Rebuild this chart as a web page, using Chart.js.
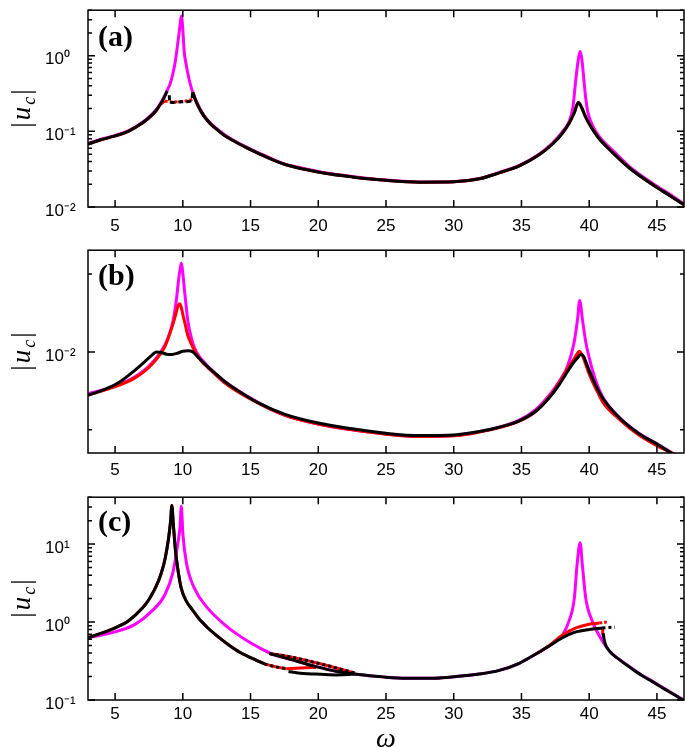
<!DOCTYPE html>
<html><head><meta charset="utf-8">
<script src="https://cdn.jsdelivr.net/npm/chart.js@4.4.1/dist/chart.umd.min.js"></script>
<style>
html,body{margin:0;padding:0;background:#fff}
body{width:685px;height:747px;overflow:hidden;position:relative}
canvas{position:absolute;left:0;display:block}
</style></head><body>
<canvas id="ca" width="685" height="240" style="top:0px"></canvas>
<canvas id="cb" width="685" height="247" style="top:240px"></canvas>
<canvas id="cc" width="685" height="270" style="top:487px"></canvas>
<script>
// ---------- shared ----------
const xTicks = [5,10,15,20,25,30,35,40,45];

// ---------- panel (a) ----------
const aTickVals = [0.01, 0.1, 1];
const aTickLabels = ['10\u207B\u00B2','10\u207B\u00B9','10\u2070'];
const aMinor = [0.02,0.03,0.04,0.05,0.06,0.07,0.08,0.09,0.2,0.3,0.4,0.5,0.6,0.7,0.8,0.9,2,3,4];
const aMagW = [3,4,5,6,7,7.5,8,8.5,8.85,9.05,9.25,9.45,9.64,9.78,9.89,9.98,10.1,10.25,10.45,10.7,10.9,11.11,11.36,11.7,12.1,12.6,13.08,13.8,14.55,15.3,16.03,17.5,19,20.5,22.5,25,27.5,30,31.9,33.4,34.84,36.3,37.29,38.03,38.52,38.8,39.02,39.2,39.33,39.46,39.6,39.75,39.9,40.1,40.4,40.74,41.2,41.7,42.95,44.67,46.14,47];
const aMagU = [0.069,0.079,0.088,0.102,0.131,0.154,0.19,0.26,0.35,0.42,0.56,0.85,1.52,2.4,3.35,2.5,1.15,0.76,0.5,0.34,0.275,0.228,0.186,0.15,0.126,0.105,0.09,0.075,0.064,0.055,0.048,0.0372,0.032,0.0283,0.0253,0.0227,0.0214,0.0216,0.0238,0.0288,0.0355,0.050,0.070,0.099,0.135,0.21,0.5,0.9,1.14,0.9,0.5,0.27,0.18,0.138,0.106,0.086,0.069,0.057,0.0345,0.0206,0.014,0.011];
const aBlkLW = [3,4,5,6,7,7.5,8,8.5,8.85];
const aBlkLU = [0.068,0.078,0.087,0.101,0.129,0.152,0.186,0.255,0.34];
const aBlkDW = [9.0,9.03,9.4,10.1,10.63,10.74];
const aBlkDU = [0.30,0.24,0.242,0.247,0.254,0.33];
const aBlkRW = [10.74,10.9,11.11,11.36,11.7,12.1,12.6,13.08,13.8,14.55,15.3,16.03,17.5,19,20.5,22.5,25,27.5,30,31.9,33.4,34.84,36.3,37.29,38.03,38.52,38.89,39.2,39.45,39.7,40.0,40.4,40.74,41.2,41.7,42.95,44.67,46.14,47];
const aBlkRU = [0.33,0.27,0.22,0.181,0.148,0.123,0.103,0.088,0.074,0.063,0.054,0.047,0.0368,0.0315,0.0279,0.025,0.0225,0.0213,0.0215,0.0236,0.0285,0.035,0.049,0.068,0.095,0.128,0.175,0.24,0.205,0.16,0.126,0.097,0.08,0.065,0.053,0.033,0.0198,0.0135,0.0107];
const aRedLW = [3,4,5,6,7,7.5,8,8.3,8.66];
const aRedLU = [0.068,0.078,0.087,0.101,0.128,0.15,0.182,0.222,0.252];
const aRedDW = [8.66,9.2,9.8,10.4,10.87];
const aRedDU = [0.252,0.245,0.248,0.255,0.27];

// ---------- panel (b) ----------
const bTickVals = [0.01];
const bTickLabels = ['10\u207B\u00B2'];
const bMinor = [0.005,0.02];
const bMagW = [3,4.72,6.44,7.67,8.66,9.0,9.27,9.39,9.55,9.7,9.81,9.89,9.96,10.05,10.13,10.25,10.37,10.55,10.74,11.0,11.85,13.08,15.05,17.5,20,22.5,25,27.5,30,31.89,33.36,34.84,36.07,37.05,37.79,38.4,38.89,39.14,39.3,39.5,39.75,40.0,40.5,41.0,42.21,43.69,45.16,46.3,46.8];
const bMagU = [0.0069,0.0073,0.008,0.009,0.0106,0.0117,0.0131,0.0142,0.0163,0.0192,0.021,0.022,0.021,0.019,0.01714,0.015,0.01319,0.0118,0.0108,0.0100,0.0088,0.0077,0.0066,0.0057,0.00527,0.005,0.00482,0.00471,0.00475,0.00492,0.00512,0.00545,0.006,0.0068,0.0077,0.0088,0.0109,0.01337,0.0158,0.01337,0.0109,0.0095,0.0077,0.0067,0.0056,0.00484,0.00437,0.00403,0.0039];
const bRedW = [3,4.72,6.44,7.67,8.66,9.0,9.27,9.5,9.64,9.76,9.88,10.0,10.2,10.37,10.6,10.87,11.3,11.85,13.08,15.05,17.5,20,22.5,25,27.5,30,31.89,33.36,34.84,36.07,37.05,37.79,38.4,38.89,39.1,39.27,39.45,39.6,40.0,40.5,41.0,42.21,43.69,45.16,46.3,46.8];
const bRedU = [0.0068,0.00726,0.00792,0.0089,0.01045,0.0116,0.0128,0.0141,0.01503,0.01535,0.0149,0.01396,0.0126,0.01157,0.0108,0.0101,0.0093,0.0087,0.0076,0.00655,0.0057,0.00526,0.005,0.00481,0.00471,0.00474,0.0049,0.0051,0.0054,0.0059,0.0067,0.0076,0.0086,0.0094,0.0098,0.01006,0.0098,0.0094,0.0082,0.0072,0.0064,0.0055,0.00476,0.0043,0.004,0.0038];
const bBlkW = [3,4.23,5.21,6.2,7.18,7.7,8.04,8.4,8.8,9.2,9.64,10.0,10.37,10.75,11.1,11.6,12.1,13.08,14.31,15.54,17.5,20,22.5,25,27.5,30,31.89,33.36,34.84,36.07,37.05,37.79,38.4,38.89,39.15,39.39,39.6,39.75,40.24,40.98,42.21,43.69,45.16,46.14,46.8];
const bBlkU = [0.0068,0.00716,0.00758,0.00828,0.00916,0.0097,0.0100,0.00995,0.0098,0.00978,0.0099,0.01005,0.0101,0.01,0.00957,0.009,0.00852,0.00769,0.00695,0.00637,0.00575,0.00531,0.00505,0.00485,0.00475,0.00478,0.00493,0.00512,0.00542,0.00591,0.00665,0.00748,0.0084,0.00916,0.0095,0.00977,0.0096,0.00916,0.00792,0.00665,0.00558,0.00483,0.00436,0.00405,0.0039];

// ---------- panel (c) ----------
const cTickVals = [0.1, 1, 10];
const cTickLabels = ['10\u207B\u00B9','10\u2070','10\u00B9'];
const cMinor = [0.2,0.3,0.4,0.5,0.6,0.7,0.8,0.9,2,3,4,5,6,7,8,9,20,30,40];
const cMagW = [3,4.72,6.44,7.67,8.66,9.27,9.64,9.8,9.89,10.0,10.26,10.87,11.85,13.08,14.0,14.93,15.9,16.5,17.87,19.84,21.4,22.67,24.76,26.5,28.4,29.67,31.89,33.36,34.84,36.07,37.05,37.5,38.03,38.5,38.9,39.1,39.33,39.5,39.75,40.24,40.98,41.47,42.2,42.95,43.8,44.67,45.6,46.64,47];
const cMagU = [0.63,0.727,0.927,1.36,2.21,4.34,10.4,17,30.6,13.8,5.8,2.68,1.5,0.93,0.70,0.55,0.445,0.395,0.335,0.268,0.232,0.216,0.198,0.19,0.19,0.196,0.215,0.24,0.296,0.389,0.494,0.56,0.68,1.02,2.0,5.3,10.4,5.3,2.0,1.02,0.57,0.43,0.335,0.27,0.213,0.174,0.139,0.108,0.1];
const cBlkAW = [3,4,5,6,7,7.5,8,8.4,8.7,8.95,9.1,9.19,9.3,9.45,9.6,9.89,10.3,10.63,11.2,11.85,12.5,13.32,14.2,15.0,15.66,16.03];
const cBlkAU = [0.63,0.72,0.84,1.04,1.5,1.95,2.8,4.2,6.6,12,20,31.4,18,8.5,5.2,2.68,1.8,1.5,1.1,0.84,0.67,0.52,0.41,0.35,0.31,0.29];
const cLowDotW = [16.03,16.8,17.63];
const cLowDotU = [0.29,0.268,0.252];
const cRedLowW = [17.63,18.7,19.84];
const cRedLowU = [0.252,0.257,0.262];
const cBlkLowW = [17.8,18.5,19.84,21.3,22.3,22.67];
const cBlkLowU = [0.232,0.222,0.215,0.21,0.213,0.216];
const cBlkUpW = [16.4,17.87,19.84,21.4,22.67];
const cBlkUpU = [0.395,0.335,0.268,0.232,0.216];
const cUpDotW = [16.4,17.87,19.84,21.4,22.7];
const cUpDotU = [0.395,0.36,0.30,0.256,0.222];
const cBlkMW = [22.67,24.76,26.5,28.4,29.67,31.89,33.36,34.84,36.07,37.05,38.03,39.02,40.0,40.98];
const cBlkMU = [0.216,0.198,0.19,0.19,0.196,0.215,0.24,0.296,0.389,0.494,0.629,0.748,0.802,0.84];
const cBlkDotW = [40.98,41.4,41.9];
const cBlkDotU = [0.84,0.85,0.86];
const cBlkDnW = [41.03,41.15,41.47,42.2,42.95,43.8,44.67,45.6,46.64,47];
const cBlkDnU = [0.72,0.55,0.43,0.332,0.267,0.211,0.172,0.137,0.107,0.099];
const cRedPkW = [36.07,37.05,38.03,39.02,40.0,40.74];
const cRedPkU = [0.389,0.5,0.68,0.84,0.94,0.97];
const cRedDotW = [40.74,41.0,41.3];
const cRedDotU = [0.97,0.99,1.0];
const cRedTickW = [41.0,41.0];
const cRedTickU = [0.84,0.70];

// ---------- helpers ----------
const MAG = '#ff00ff', RED = '#ff0000', BLK = '#000000';
function ds(ws, us, color, order, extra) {
  return Object.assign({
    data: ws.map((w, i) => ({x: w, y: us[i]})),
    borderColor: color, backgroundColor: color, borderWidth: 3,
    pointRadius: 0, fill: false, cubicInterpolationMode: 'monotone',
    borderCapStyle: 'butt', borderJoinStyle: 'round', order: order
  }, extra || {});
}

const framePlugin = {
  id: 'frame',
  afterDatasetsDraw(chart, args, o) {
    const {ctx, chartArea: {left, right, top, bottom}, scales: {x, y}} = chart;
    ctx.save();
    ctx.strokeStyle = '#000';
    ctx.lineWidth = 1.5;
    ctx.beginPath();
    for (const v of xTicks) {
      const p = x.getPixelForValue(v);
      ctx.moveTo(p, bottom); ctx.lineTo(p, bottom - 7);
      ctx.moveTo(p, top); ctx.lineTo(p, top + 7);
    }
    for (const v of o.major) {
      const p = y.getPixelForValue(v);
      ctx.moveTo(left, p); ctx.lineTo(left + 7, p);
      ctx.moveTo(right, p); ctx.lineTo(right - 7, p);
    }
    for (const v of o.minor) {
      const p = y.getPixelForValue(v);
      if (p < top || p > bottom) continue;
      ctx.moveTo(left, p); ctx.lineTo(left + 4, p);
      ctx.moveTo(right, p); ctx.lineTo(right - 4, p);
    }
    ctx.stroke();
    ctx.strokeRect(left, top, right - left, bottom - top);
    // panel tag
    ctx.fillStyle = '#000';
    ctx.textBaseline = 'alphabetic';
    ctx.textAlign = 'left';
    ctx.font = 'bold 30px "Liberation Serif", serif';
    ctx.fillText(o.tag, left + 10, top + o.tagDy);
    // y axis title |u_c|
    ctx.translate(30, (top + bottom) / 2);
    ctx.rotate(-Math.PI / 2);
    const fBar = '27px "Liberation Serif", serif';
    const fU = 'italic 27px "Liberation Serif", serif';
    const fC = 'italic 18px "Liberation Serif", serif';
    const parts = [[fBar, '|', 0], [fU, 'u', 0], [fC, 'c', 5], [fBar, '|', 0]];
    const gap = 2;
    let total = 0;
    for (const [f, t] of parts) { ctx.font = f; total += ctx.measureText(t).width + gap; }
    total -= gap;
    let cx = -total / 2;
    for (const [f, t, dy] of parts) {
      ctx.font = f;
      ctx.fillText(t, cx, dy);
      cx += ctx.measureText(t).width + gap;
    }
    ctx.restore();
  }
};

function makeChart(id, datasets, yMin, yMax, tickVals, tickLabels, minor, tag, tagDy, padTop, xH, xPad, xTitle) {
  return new Chart(document.getElementById(id), {
    type: 'line',
    data: {datasets: datasets},
    plugins: [framePlugin],
    options: {
      responsive: false, maintainAspectRatio: false, animation: false, events: [],
      layout: {padding: {top: padTop, left: 45, right: 1, bottom: 0}},
      plugins: {legend: {display: false}, tooltip: {enabled: false},
        frame: {major: tickVals, minor: minor, tag: tag, tagDy: tagDy}},
      scales: {
        x: {
          type: 'linear', min: 3, max: 47,
          grid: {display: false, drawTicks: false}, border: {display: false},
          afterBuildTicks: s => { s.ticks = xTicks.map(v => ({value: v})); },
          afterFit: s => { s.height = xH; },
          ticks: {padding: xPad, color: '#000', maxRotation: 0,
            font: {family: '"Liberation Sans", Arial, sans-serif', size: 17}},
          title: xTitle ? {display: true, text: 'ω', color: '#000',
            font: {family: '"Liberation Serif", serif', style: 'italic', size: 28, lineHeight: 1},
            padding: {top: 0, bottom: 3}} : {display: false}
        },
        y: {
          type: 'logarithmic', min: yMin, max: yMax,
          grid: {display: false, drawTicks: false}, border: {display: false},
          afterBuildTicks: s => { s.ticks = tickVals.map(v => ({value: v, major: true})); },
          afterFit: s => { s.width = 43; },
          ticks: {crossAlign: 'far', labelOffset: 4, padding: 0, color: '#000',
            font: {family: '"Liberation Sans", Arial, sans-serif', size: 17},
            callback: (v, i) => tickLabels[i]}
        }
      }
    }
  });
}

const dashBlk = {borderDash: [5, 3]};
const dotBlk = {borderDash: [3, 3]};

makeChart('ca', [
  ds(aBlkLW, aBlkLU, BLK, 0),
  ds(aBlkDW, aBlkDU, BLK, 0, dashBlk),
  ds(aBlkRW, aBlkRU, BLK, 0),
  ds(aRedLW, aRedLU, RED, 1),
  ds(aRedDW, aRedDU, RED, 1, {borderDash: [3, 2]}),
  ds(aBlkRW, aBlkRU, RED, 1),
  ds(aMagW, aMagU, MAG, 2)
], 0.01, 4, aTickVals, aTickLabels, aMinor, '(a)', 36, 1, 33, 9, false);

makeChart('cb', [
  ds(bBlkW, bBlkU, BLK, 0),
  ds(bRedW, bRedU, RED, 1),
  ds(bMagW, bMagU, MAG, 2)
], 0.00407, 0.0247, bTickVals, bTickLabels, bMinor, '(b)', 35, 7, 34, 7, false);

makeChart('cc', [
  ds(cBlkAW, cBlkAU, BLK, 0),
  ds(cLowDotW, cLowDotU, BLK, 0, dotBlk),
  ds(cBlkLowW, cBlkLowU, BLK, 0),
  ds(cBlkUpW, cBlkUpU, BLK, 0),
  ds(cUpDotW, cUpDotU, BLK, 0, dotBlk),
  ds(cBlkMW, cBlkMU, BLK, 0),
  ds(cBlkDotW, cBlkDotU, BLK, 0, dotBlk),
  ds(cBlkDnW, cBlkDnU, BLK, 0),
  ds(cBlkAW, cBlkAU, RED, 1),
  ds(cLowDotW, cLowDotU, RED, 1),
  ds(cRedLowW, cRedLowU, RED, 1),
  ds(cUpDotW, cUpDotU, RED, 1),
  ds(cRedPkW, cRedPkU, RED, 1),
  ds(cRedDotW, cRedDotU, RED, 1, {borderDash: [3, 2]}),
  ds(cRedTickW, cRedTickU, RED, 1, {cubicInterpolationMode: 'default', tension: 0}),
  ds(cMagW, cMagU, MAG, 2)
], 0.1, 40, cTickVals, cTickLabels, cMinor, '(c)', 34, 6, 57, 4, true);
</script>
</body></html>
